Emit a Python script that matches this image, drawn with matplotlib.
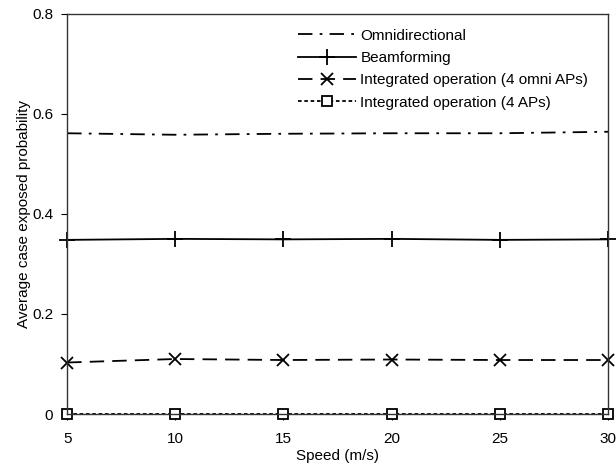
import matplotlib
matplotlib.use("Agg")
import matplotlib.pyplot as plt

plt.rcParams["font.family"] = ["Liberation Sans", "DejaVu Sans"]

# Daten
speed = [5, 10, 15, 20, 25, 30]
omni = [0.561, 0.558, 0.560, 0.561, 0.561, 0.564]
beam = [0.348, 0.350, 0.349, 0.350, 0.348, 0.349]
integ_omni = [0.103, 0.110, 0.108, 0.109, 0.108, 0.108]
integ_4aps = [0.0, 0.0, 0.0, 0.0, 0.0, 0.0]

labels = ["Omnidirectional", "Beamforming",
          "Integrated operation (4 omni APs)", "Integrated operation (4 APs)"]

FS = 11

fig = plt.figure(figsize=(6.16, 4.70), dpi=100)
ax = fig.add_axes([0.109, 0.119, 0.878, 0.852])

ax.plot(speed, omni, color="black", lw=1.3, dashes=(8, 4, 1.5, 4),
        clip_on=False, label=labels[0])
ax.plot(speed, beam, color="black", lw=1.3, marker="+", markersize=12,
        markeredgewidth=1.3, clip_on=False, label=labels[1])
ax.plot(speed, integ_omni, color="black", lw=1.3, dashes=(8, 4.5), marker="x",
        markersize=9, markeredgewidth=1.3, clip_on=False, label=labels[2])
ax.plot(speed, integ_4aps, color="black", lw=1.3, dashes=(2, 1.5), marker="s",
        markersize=6.5, markerfacecolor="white", markeredgewidth=1.3,
        clip_on=False, label=labels[3])

ax.set_xlim(5, 30)
ax.set_ylim(0, 0.8)
ax.set_xticks(speed)
ax.set_yticks([0, 0.2, 0.4, 0.6, 0.8])
ax.set_yticklabels(["0", "0.2", "0.4", "0.6", "0.8"])
ax.tick_params(direction="out", length=4, labelsize=FS)
ax.tick_params(axis="x", pad=9)
ax.tick_params(axis="y", pad=6)
ax.set_xlabel("Speed (m/s)", fontsize=FS, labelpad=2)
ax.set_ylabel("Average case exposed probability", fontsize=FS, labelpad=1)

for s in ax.spines.values():
    s.set_linewidth(1.0)
    s.set_color("#333333")

ax.legend(loc="upper left", bbox_to_anchor=(0.415, 0.978), borderaxespad=0,
          frameon=False, fontsize=FS, handlelength=3.8, handletextpad=0.3,
          labelspacing=0.55)

fig.savefig("out.png", dpi=100)
